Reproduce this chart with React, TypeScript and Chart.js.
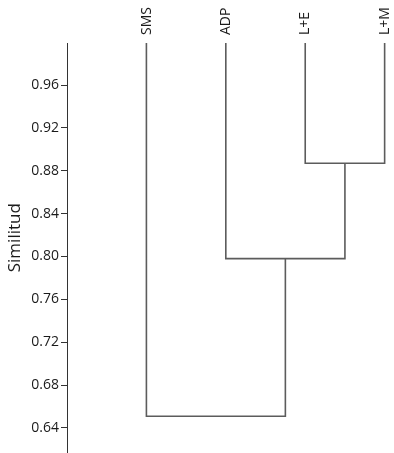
import { useEffect, useRef } from "react";
import { Chart, registerables } from "chart.js";

Chart.register(...registerables);

// Leaves (top labels), left to right
const leafLabels = ["SMS", "ADP", "L+E", "L+M"];
// Agglomerative merges: node indices (0..3 leaves, 4.. merged clusters)
const mergeLeft = [2, 1, 0];
const mergeRight = [3, 4, 5];
const mergeHeights = [0.887, 0.798, 0.651];
// Y axis
const yTicks = [0.64, 0.68, 0.72, 0.76, 0.8, 0.84, 0.88, 0.92, 0.96];
const yTitle = "Similitud";
const yMin = 0.6176;
const yMax = 0.9992;
const xMin = -1;
const xMax = 3.118;

const FONT = "'Open Sans', 'Noto Sans', sans-serif";

const titlePlugin = {
  id: "yTitle",
  afterDraw(chart: any) {
    const { ctx, chartArea } = chart;
    const cy = chartArea.top + (chartArea.bottom - chartArea.top) * 0.476;
    ctx.save();
    ctx.translate(15, cy);
    ctx.rotate(-Math.PI / 2);
    ctx.font = `17px ${FONT}`;
    ctx.fillStyle = "#1a1a1a";
    ctx.textAlign = "center";
    ctx.textBaseline = "middle";
    ctx.fillText(yTitle, 0, 0);
    ctx.restore();
  },
};

export default function App() {
  const ref = useRef<HTMLCanvasElement | null>(null);

  useEffect(() => {
    const canvas = ref.current;
    if (!canvas) return;

    const nodeX: number[] = leafLabels.map((_, i) => i);
    const nodeH: number[] = leafLabels.map(() => yMax);
    const datasets: any[] = [];
    mergeHeights.forEach((h, i) => {
      const a = mergeLeft[i];
      const b = mergeRight[i];
      datasets.push({
        data: [
          { x: nodeX[a], y: nodeH[a] },
          { x: nodeX[a], y: h },
          { x: nodeX[b], y: h },
          { x: nodeX[b], y: nodeH[b] },
        ],
        showLine: true,
        borderColor: "#5c5c5c",
        borderWidth: 1.6,
        pointRadius: 0,
        fill: false,
        tension: 0,
      });
      nodeX.push((nodeX[a] + nodeX[b]) / 2);
      nodeH.push(h);
    });

    const chart = new Chart(canvas, {
      type: "scatter",
      data: { datasets },
      plugins: [titlePlugin],
      options: {
        responsive: false,
        animation: false,
        layout: { padding: { left: 0, right: 0, top: 0, bottom: 1 } },
        plugins: { legend: { display: false }, tooltip: { enabled: false } },
        scales: {
          x: {
            type: "linear",
            position: "top",
            min: xMin,
            max: xMax,
            afterBuildTicks: (scale: any) => {
              scale.ticks = leafLabels.map((_, i) => ({ value: i }));
            },
            afterFit: (scale: any) => {
              scale.height = 43;
              scale.paddingLeft = 0;
              scale.paddingRight = 0;
            },
            ticks: {
              callback: (v: any) => leafLabels[v as number] ?? "",
              minRotation: 90,
              maxRotation: 90,
              autoSkip: false,
              padding: 8,
              labelOffset: 17,
              color: "#1a1a1a",
              font: { family: FONT, size: 14 },
            },
            grid: { display: false, drawTicks: false },
            border: { display: false },
          },
          y: {
            type: "linear",
            min: yMin,
            max: yMax,
            afterBuildTicks: (scale: any) => {
              scale.ticks = yTicks.map((v) => ({ value: v }));
            },
            afterFit: (scale: any) => {
              scale.width = 67;
              scale.paddingTop = 0;
              scale.paddingBottom = 0;
            },
            ticks: {
              callback: (v: any) => Number(v).toFixed(2),
              padding: 2,
              color: "#1a1a1a",
              font: { family: FONT, size: 14 },
            },
            grid: {
              drawOnChartArea: false,
              drawTicks: true,
              tickLength: 6,
              color: "#333333",
              lineWidth: 1,
            },
            border: { display: true, color: "#333333", width: 1 },
            title: { display: false },
          },
        },
      },
    });

    return () => chart.destroy();
  }, []);

  return (
    <div style={{ position: "absolute", left: 0, top: 0, width: 394, height: 453 }}>
      <canvas ref={ref} width={394} height={453} style={{ display: "block" }} />
    </div>
  );
}
